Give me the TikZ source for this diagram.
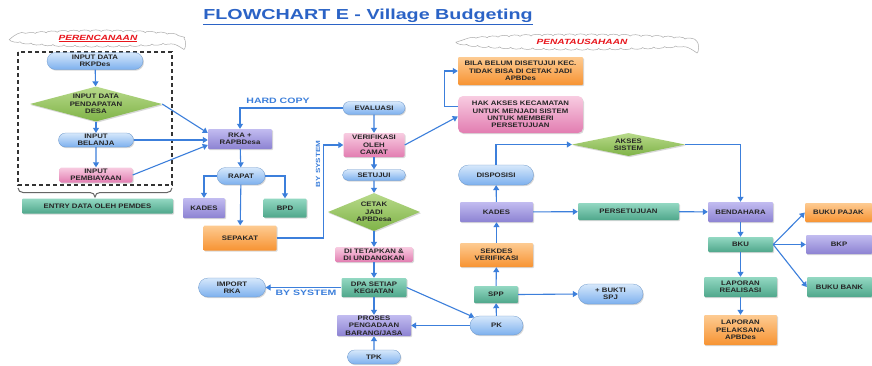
\documentclass[tikz,border=0pt]{standalone}
\usepackage{fontspec}
\setmainfont{Liberation Sans}
\newfontfamily\boxfont[FakeStretch=1.2]{Liberation Sans}
\newfontfamily\labelfont[FakeStretch=1.35]{Liberation Sans}
\newfontfamily\titlefont[FakeStretch=1.36]{Liberation Sans}
\usetikzlibrary{arrows.meta,shapes.geometric,shapes.misc,shadows,decorations.pathmorphing}

\definecolor{lnblue}{HTML}{3C7FDB}
\definecolor{pillTop}{HTML}{D6E8FB}
\definecolor{pillBot}{HTML}{7DB0EE}
\definecolor{purTop}{HTML}{C2BCF0}
\definecolor{purBot}{HTML}{8C82D2}
\definecolor{tealTop}{HTML}{93D8C2}
\definecolor{tealBot}{HTML}{4FA78B}
\definecolor{pinkTop}{HTML}{F8CCE1}
\definecolor{pinkBot}{HTML}{E27DB1}
\definecolor{oraTop}{HTML}{FDCB92}
\definecolor{oraBot}{HTML}{F79332}
\definecolor{grnTop}{HTML}{B8DA8B}
\definecolor{grnBot}{HTML}{7FB347}
\definecolor{titleblue}{HTML}{2B63C6}
\definecolor{cloudred}{HTML}{E8141B}

\tikzset{
  box/.style={font=\boxfont\bfseries\fontsize{6.5}{7.3}\selectfont, text=black!85,
    align=center, inner sep=0pt,
    drop shadow={shadow xshift=1pt,shadow yshift=-1.2pt,opacity=0.3}},
  pill/.style={box, rounded rectangle, top color=pillTop, bottom color=pillBot,
    draw=pillBot!85!black, line width=0.3pt},
  purbox/.style={box, rectangle, rounded corners=1pt, top color=purTop, bottom color=purBot},
  tealbox/.style={box, rectangle, rounded corners=1pt, top color=tealTop, bottom color=tealBot},
  pinkbox/.style={box, rectangle, rounded corners=1.5pt, top color=pinkTop, bottom color=pinkBot},
  orabox/.style={box, rectangle, rounded corners=1pt, top color=oraTop, bottom color=oraBot},
  dec/.style={box, diamond, top color=grnTop, bottom color=grnBot},
  flow/.style={draw=lnblue, line width=1.1pt, -{Triangle[length=5pt,width=6pt]}},
  flowlabel/.style={font=\labelfont\bfseries\fontsize{7.8}{8}\selectfont, text=lnblue, inner sep=0pt},
  tag/.style={inner sep=0pt, text=cloudred,
    font=\labelfont\bfseries\itshape\fontsize{7.5}{8}\selectfont},
  puff/.style={draw=gray!65, line width=0.5pt, decorate,
    decoration={bumps, segment length=22pt, amplitude=1.6pt}},
}

\begin{document}
\begin{tikzpicture}[x=1pt,y=-1pt]
\useasboundingbox (0,0) rectangle (872,365);
\fill[white] (0,0) rectangle (872,365);

\node[font=\titlefont\bfseries\fontsize{14.5}{16}\selectfont, text=titleblue] (title)
  at (368,17) {\underline{FLOWCHART E - Village Budgeting}};

% perencanaan
\node[tag] (plan) at (98,38.5) {\underline{PERENCANAAN}};
\draw[puff] (plan.center) ellipse [x radius=86, y radius=7];
\draw[dashed, dash pattern=on 4pt off 3pt, line width=1.4pt, black!80] (18,52) rectangle (172,185);
\draw[black!60, line width=1pt] (18,188) to[out=-90,in=180] (23,192.5) -- (90,192.5)
  to[out=0,in=90] (95,197) to[out=90,in=180] (100,192.5) -- (167,192.5)
  to[out=0,in=-90] (172,188);

\node[pill, minimum width=96, minimum height=17] (rkpdes) at (95,61) {INPUT DATA\\RKPDes};
\node[dec, minimum width=132, minimum height=35, aspect=3.8] (pendapatan) at (96,104) {INPUT DATA\\PENDAPATAN\\DESA};
\node[pill, minimum width=75, minimum height=14] (belanja) at (96,140) {INPUT\\BELANJA};
\node[pinkbox, minimum width=73, minimum height=15] (pembiayaan) at (96,175) {INPUT\\PEMBIAYAAN};
\node[tealbox, minimum width=151, minimum height=15] (entry) at (97.5,206) {ENTRY DATA OLEH PEMDES};

\node[purbox, minimum width=64, minimum height=20] (rka) at (240,139) {RKA +\\RAPBDesa};
\node[pill, minimum width=48, minimum height=17] (rapat) at (241,176) {RAPAT};
\node[purbox, minimum width=42, minimum height=20] (kadesL) at (204,208) {KADES};
\node[tealbox, minimum width=43, minimum height=19] (bpd) at (285,208) {BPD};
\node[orabox, minimum width=73, minimum height=25] (sepakat) at (240,238) {SEPAKAT};

% tengah
\node[pill, minimum width=62, minimum height=13] (evaluasi) at (374,108) {EVALUASI};
\node[pinkbox, minimum width=61, minimum height=24] (verif) at (374,145) {VERIFIKASI\\OLEH\\CAMAT};
\node[pill, minimum width=63, minimum height=11] (setuju) at (374,175) {SETUJUI};
\node[dec, minimum width=92, minimum height=38, aspect=2.4] (cetak) at (374,212) {CETAK\\JADI\\APBDesa};
\node[pinkbox, minimum width=78, minimum height=15] (tetap) at (374,254.5) {DI TETAPKAN \&\\DI UNDANGKAN};
\node[tealbox, minimum width=65, minimum height=19] (dpa) at (374,287.5) {DPA SETIAP\\KEGIATAN};
\node[pill, minimum width=67, minimum height=19] (importrka) at (232,287.5) {IMPORT\\RKA};
\node[purbox, minimum width=74, minimum height=21] (proses) at (374,325.5) {PROSES\\PENGADAAN\\BARANG/JASA};
\node[pill, minimum width=53, minimum height=14] (tpk) at (374,357) {TPK};

\node[flowlabel] (hardcopy) at (278,101) {HARD COPY};
\node[flowlabel] (bysys) at (306,293) {BY SYSTEM};
\node[flowlabel, rotate=90, font=\labelfont\bfseries\fontsize{6}{6}\selectfont] (bysysv) at (318,164) {BY SYSTEM};

% penatausahaan
\node[tag] (admin) at (582,42) {PENATAUSAHAAN};
\draw[puff] (579,42) ellipse [x radius=118, y radius=6.5];
\node[orabox, minimum width=125, minimum height=28] (bila) at (520.5,71) {BILA BELUM DISETUJUI KEC.\\TIDAK BISA DI CETAK JADI\\APBDes};
\node[pinkbox, rounded corners=5pt, minimum width=125, minimum height=37] (hakakses) at (520.5,114.5) {HAK AKSES KECAMATAN\\UNTUK MENJADI SISTEM\\UNTUK MEMBERI\\PERSETUJUAN};

\node[pill, minimum width=53, minimum height=19] (pk) at (496.5,325.5) {PK};
\node[tealbox, minimum width=44, minimum height=17] (spp) at (496,294.5) {SPP};
\node[pill, minimum width=65, minimum height=20] (bukti) at (610.5,294) {+ BUKTI\\SPJ};
\node[orabox, minimum width=73, minimum height=24] (sekdes) at (496.5,255) {SEKDES\\VERIFIKASI};
\node[purbox, minimum width=73, minimum height=20] (kades) at (496.5,212) {KADES};
\node[pill, minimum width=75, minimum height=20] (disposisi) at (496,175) {DISPOSISI};
\node[dec, minimum width=113, minimum height=23, aspect=4.9] (akses) at (628.5,144.5) {AKSES\\SISTEM};
\node[tealbox, minimum width=101, minimum height=17] (persetujuan) at (628.5,211.5) {PERSETUJUAN};

\node[purbox, minimum width=65, minimum height=20] (bendahara) at (740.5,212) {BENDAHARA};
\node[tealbox, minimum width=65, minimum height=15] (bku) at (740.5,244.5) {BKU};
\node[tealbox, minimum width=73, minimum height=20] (lapreal) at (740.5,287) {LAPORAN\\REALISASI};
\node[orabox, minimum width=73, minimum height=30] (lappel) at (740.5,330) {LAPORAN\\PELAKSANA\\APBDes};
\node[orabox, minimum width=67, minimum height=19] (pajak) at (838.5,212.5) {BUKU PAJAK};
\node[purbox, minimum width=66, minimum height=19] (bkp) at (839,244.5) {BKP};
\node[tealbox, minimum width=65, minimum height=20] (bank) at (839.5,287) {BUKU BANK};

% panah
\draw[flow] (rkpdes) -- (pendapatan);
\draw[flow] (pendapatan) -- (belanja);
\draw[flow] (belanja) -- (pembiayaan);
\draw[flow] (pendapatan.east) -- ([yshift=6pt]rka.west);
\draw[flow] (belanja.east) -- (belanja.east -| rka.west);
\draw[flow] (pembiayaan.east) -- ([yshift=-6pt]rka.west);
\draw[flow] (evaluasi.west) -| (rka.north);
\draw[flow] (rka) -- (rapat);
\draw[flow] (rapat.west) -| (kadesL.north);
\draw[flow] (rapat.east) -| (bpd.north);
\draw[flow] (rapat) -- (sepakat);
\draw[flow] (sepakat.east) -- ++(47,0) |- (verif.west);

\draw[flow] (evaluasi) -- (verif);
\draw[flow] (verif) -- (setuju);
\draw[flow] (setuju) -- (cetak);
\draw[flow] (cetak) -- (tetap);
\draw[flow] (tetap) -- (dpa);
\draw[flow] (dpa) -- (proses);
\draw[flow] (tpk) -- (proses);
\draw[flow] (dpa.west) -- (importrka.east);
\draw[flow] (dpa.east) -- (pk.160);
\draw[flow] (pk.west) -- (pk.west -| proses.east);

\draw[flow] (verif.east) -- ([yshift=-2pt]hakakses.west);
\draw[flow] ([yshift=8pt]hakakses.west) -- ++(-13,0) |- (bila.west);

\draw[flow] (pk) -- (spp);
\draw[flow] (spp) -- (sekdes);
\draw[flow] (spp.east) -- (bukti.west);
\draw[flow] (sekdes) -- (kades);
\draw[flow] (kades) -- (disposisi);
\draw[flow] (disposisi.north) |- (akses.west);
\draw[flow] (akses.east) -| (bendahara.north);
\draw[flow] (kades) -- (persetujuan);
\draw[flow] (persetujuan) -- (bendahara);
\draw[flow] (bendahara) -- (bku);
\draw[flow] (bku) -- (lapreal);
\draw[flow] (lapreal) -- (lappel);
\draw[flow] (bku.east) -- (pajak.west);
\draw[flow] (bku.east) -- (bkp.west);
\draw[flow] (bku.east) -- (bank.west);
\end{tikzpicture}
\end{document}
